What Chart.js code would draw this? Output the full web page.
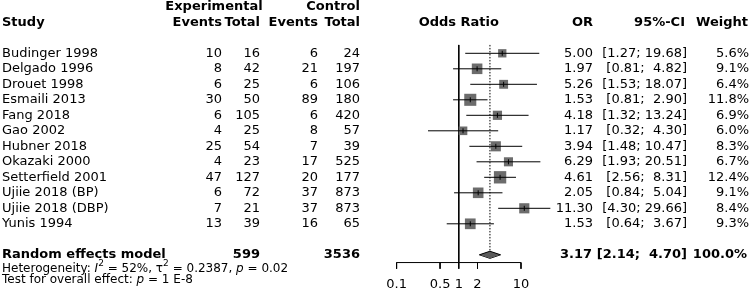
<!DOCTYPE html>
<html><head><meta charset="utf-8">
<script src="https://cdn.jsdelivr.net/npm/chart.js@4/dist/chart.umd.min.js"></script>
<style>html,body{margin:0;padding:0;background:#fff}canvas{display:block}</style>
</head><body>
<canvas id="c" width="751" height="298"></canvas>
<script>
// ---- data ----
const studies = ["Budinger 1998","Delgado 1996","Drouet 1998","Esmaili 2013","Fang 2018","Gao 2002","Hubner 2018","Okazaki 2000","Setterfield 2001","Ujiie 2018 (BP)","Ujiie 2018 (DBP)","Yunis 1994"];
const expEvents  = [10, 8, 6, 30, 6, 4, 25, 4, 47, 6, 7, 13];
const expTotal   = [16, 42, 25, 50, 105, 25, 54, 23, 127, 72, 21, 39];
const ctrlEvents = [6, 21, 6, 89, 6, 8, 7, 17, 20, 37, 37, 16];
const ctrlTotal  = [24, 197, 106, 180, 420, 57, 39, 525, 177, 873, 873, 65];
const oddsRatio  = [5.00, 1.97, 5.26, 1.53, 4.18, 1.17, 3.94, 6.29, 4.61, 2.05, 11.30, 1.53];
const ciLower    = [1.27, 0.81, 1.53, 0.81, 1.32, 0.32, 1.48, 1.93, 2.56, 0.84, 4.30, 0.64];
const ciUpper    = [19.68, 4.82, 18.07, 2.90, 13.24, 4.30, 10.47, 20.51, 8.31, 5.04, 29.66, 3.67];
const weights    = [5.6, 9.1, 6.4, 11.8, 6.9, 6.0, 8.3, 6.7, 12.4, 9.1, 8.4, 9.3];
const pooledOR = 3.17, pooledLower = 2.14, pooledUpper = 4.70, pooledWeight = 100.0;
const pooledExpTotal = 599, pooledCtrlTotal = 3536;
const axisTicks = [0.1, 0.5, 1, 2, 10];
const axisTickLabels = ["0.1", "0.5", "1", "2", "10"];

// ---- layout (rows) ----
const N = studies.length;
const pooledRow = N + 1;        // 13
const axisRow = pooledRow + 0.5;
const tickLen = 0.4;
const topRow = -0.54;
const diamondH = 0.23;

const fmtCI = (lo, hi) => `[${lo.toFixed(2)}; ${hi < 10 ? ' ' : ''}${hi.toFixed(2)}]`;

const ciData = [];
studies.forEach((s, i) => { ciData.push({x: ciLower[i], y: i}, {x: ciUpper[i], y: i}, {x: ciUpper[i], y: null}); });
const axisData = [{x: axisTicks[0], y: axisRow}, {x: axisTicks[axisTicks.length - 1], y: axisRow}, {x: 1, y: null}];
axisTicks.forEach(t => { axisData.push({x: t, y: axisRow}, {x: t, y: axisRow + tickLen}, {x: t, y: null}); });

const COL = {ee: 222, et: 260, ce: 318, ct: 360, or: 593, ci: 687, w: 749};

const textPlugin = {
  id: 'forestText',
  afterDraw(chart) {
    const ctx = chart.ctx, ys = chart.scales.y, xs = chart.scales.x;
    const Y = r => ys.getPixelForValue(r);
    const F = '"DejaVu Sans", sans-serif';
    ctx.save();
    ctx.fillStyle = '#000';
    ctx.textBaseline = 'middle';
    const put = (t, x, r, align, bold, size) => {
      ctx.font = (bold ? 'bold ' : '') + (size || 13) + 'px ' + F;
      ctx.textAlign = align;
      ctx.fillText(t, x, Y(r));
    };
    // headers
    put('Experimental', 214, -3, 'center', true);
    put('Control', COL.ct, -3, 'right', true);
    put('Study', 2, -2, 'left', true);
    put('Events', COL.ee, -2, 'right', true);
    put('Total', COL.et, -2, 'right', true);
    put('Events', COL.ce, -2, 'right', true);
    put('Total', COL.ct, -2, 'right', true);
    put('Odds Ratio', xs.getPixelForValue(1), -2, 'center', true);
    put('OR', COL.or, -2, 'right', true);
    put('95%-CI', COL.ci - 2, -2, 'right', true);
    put('Weight', COL.w - 1, -2, 'right', true);
    // rows
    studies.forEach((s, i) => {
      put(s, 2, i, 'left');
      put(String(expEvents[i]), COL.ee, i, 'right');
      put(String(expTotal[i]), COL.et, i, 'right');
      put(String(ctrlEvents[i]), COL.ce, i, 'right');
      put(String(ctrlTotal[i]), COL.ct, i, 'right');
      put(oddsRatio[i].toFixed(2), COL.or, i, 'right');
      put(fmtCI(ciLower[i], ciUpper[i]), COL.ci, i, 'right');
      put(weights[i].toFixed(1) + '%', COL.w, i, 'right');
    });
    // pooled
    put('Random effects model', 2, pooledRow, 'left', true);
    put(String(pooledExpTotal), COL.et, pooledRow, 'right', true);
    put(String(pooledCtrlTotal), COL.ct, pooledRow, 'right', true);
    put(pooledOR.toFixed(2), COL.or - 1, pooledRow, 'right', true);
    put(fmtCI(pooledLower, pooledUpper), COL.ci, pooledRow, 'right', true);
    put(pooledWeight.toFixed(1) + '%', COL.w - 2, pooledRow, 'right', true);
    // tick labels
    axisTicks.forEach((t, k) => put(axisTickLabels[k], xs.getPixelForValue(t), axisRow + 1.43, 'center'));
    // heterogeneity lines (rich text)
    const rich = (parts, x, r) => {
      ctx.textAlign = 'left';
      let cx = x;
      const base = Y(r);
      parts.forEach(([t, st]) => {
        const sup = st === 'sup';
        ctx.font = (st === 'i' ? 'italic ' : '') + (sup ? 9 : 12) + 'px ' + F;
        ctx.fillText(t, cx, base - (sup ? 5 : 0));
        cx += ctx.measureText(t).width;
      });
    };
    rich([['Heterogeneity: ', ''], ['I', 'i'], ['2', 'sup'], [' = 52%, ', ''], ['\u03c4', ''], ['2', 'sup'], [' = 0.2387, ', ''], ['p', 'i'], [' = 0.02', '']], 2, pooledRow + 0.9);
    rich([['Test for overall effect: ', ''], ['p', 'i'], [' = 1 E-8', '']], 2, pooledRow + 1.6);
    ctx.restore();
  }
};

new Chart(document.getElementById('c'), {
  type: 'scatter',
  data: {
    datasets: [
      { // estimate ticks inside squares
        type: 'scatter',
        data: oddsRatio.map((v, i) => ({x: v, y: i})),
        pointStyle: 'line', rotation: 90, pointRadius: 2.5, borderColor: '#000', borderWidth: 1, pointHoverRadius: 2.5
      },
      { // CI lines
        type: 'line', data: ciData, borderColor: '#000', borderWidth: 1, pointRadius: 0, spanGaps: false, fill: false
      },
      { // squares
        type: 'scatter',
        data: oddsRatio.map((v, i) => ({x: v, y: i})),
        pointStyle: 'rect', backgroundColor: '#6c6c6c', borderWidth: 0,
        pointRadius: weights.map(w => 3.51 * Math.sqrt(w) / Math.SQRT2),
        pointHoverRadius: weights.map(w => 3.51 * Math.sqrt(w) / Math.SQRT2)
      },
      { // diamond upper
        type: 'line',
        data: [{x: pooledLower, y: pooledRow}, {x: pooledOR, y: pooledRow - diamondH}, {x: pooledUpper, y: pooledRow}],
        borderColor: '#000', borderWidth: 1, pointRadius: 0, backgroundColor: '#5a5a5a', fill: '+1', tension: 0
      },
      { // diamond lower
        type: 'line',
        data: [{x: pooledLower, y: pooledRow}, {x: pooledOR, y: pooledRow + diamondH}, {x: pooledUpper, y: pooledRow}],
        borderColor: '#000', borderWidth: 1, pointRadius: 0, fill: false, tension: 0
      },
      { // pooled dashed line
        type: 'line',
        data: [{x: pooledOR, y: topRow}, {x: pooledOR, y: pooledRow - diamondH}],
        borderColor: '#000', borderWidth: 1, borderDash: [1.5, 1.5], pointRadius: 0, fill: false
      },
      { // null line
        type: 'line',
        data: [{x: 1, y: topRow}, {x: 1, y: axisRow}],
        borderColor: '#000', borderWidth: 1, pointRadius: 0, fill: false
      },
      { // axis
        type: 'line', data: axisData, borderColor: '#000', borderWidth: 1, pointRadius: 0, spanGaps: false, fill: false
      }
    ]
  },
  options: {
    responsive: false,
    animation: false,
    devicePixelRatio: 1,
    layout: {padding: 0, autoPadding: false},
    plugins: {legend: {display: false}, tooltip: {enabled: false}},
    events: [],
    scales: {
      x: {type: 'logarithmic', min: Math.pow(10, -7.376), max: Math.pow(10, 4.698), display: false},
      y: {type: 'linear', min: -3.439, max: 15.787, reverse: true, display: false}
    }
  },
  plugins: [textPlugin]
});
</script>
</body></html>
